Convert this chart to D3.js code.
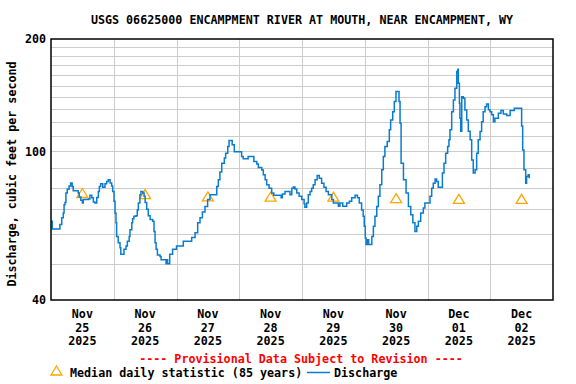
<!DOCTYPE html>
<html><head><meta charset="utf-8">
<script src="https://cdn.jsdelivr.net/npm/d3@7"></script>
<style>
html,body{margin:0;padding:0;background:#fff;}
svg text{font-family:"DejaVu Sans Mono","Liberation Mono",monospace;font-weight:bold;font-size:11.7px;}
</style></head><body>
<svg id="c" width="576" height="384"></svg>
<script>
const title = "USGS 06625000 ENCAMPMENT RIVER AT MOUTH, NEAR ENCAMPMENT, WY";
const yLabel = "Discharge, cubic feet per second";
const startDate = new Date(2025, 10, 25, 0, 0);
const endDate = new Date(2025, 11, 3, 0, 0);
const dayTicks = ["Nov|25|2025","Nov|26|2025","Nov|27|2025","Nov|28|2025","Nov|29|2025","Nov|30|2025","Dec|01|2025","Dec|02|2025"];
const yTickValues = [40, 100, 200];
const yGridValues = [50,60,70,80,90,100,110,120,130,140,150,160,170,180,190];
// hours since Nov 25 00:00
const dischargeHours = [0,0.5,2.8,3.4,4.1,4.7,5.0,5.35,5.7,6.2,6.9,7.5,8.1,8.5,9.8,10.4,10.8,11.4,12.0,12.35,14.3,14.9,15.6,16.2,16.8,17.5,18.1,18.5,19.0,19.8,20.65,21.3,21.9,22.6,23.2,23.6,24.1,24.5,24.85,25.1,25.7,26.4,26.7,27.4,27.9,28.7,29.2,29.9,30.2,30.9,31.2,31.7,32.5,33.0,33.4,34.0,34.4,35.1,35.6,36.0,36.6,37.2,37.9,38.9,39.4,39.8,40.2,40.7,41.7,42.1,43.6,44.0,44.3,44.6,45.4,46.5,48.0,50.6,53.2,53.8,55.1,56.1,57.0,57.9,58.9,59.9,60.8,62.5,63.4,64.0,64.6,65.3,66.3,66.8,67.6,68.1,68.8,69.3,70.1,71.6,72.9,73.5,74.8,75.4,77.0,77.6,78.7,79.3,80.6,81.2,81.9,82.5,83.4,84.4,85.2,86.9,88.0,88.5,89.5,90.5,91.4,92.1,92.7,93.3,94.0,94.9,95.9,96.8,97.1,97.8,98.4,99.1,99.7,100.3,101.0,101.8,102.6,103.5,104.4,105.2,106.1,107.4,108.0,109.5,109.9,110.5,111.6,113.1,114.1,115.0,116.3,117.2,117.9,118.8,119.4,119.8,120.2,120.5,121.0,121.5,122.3,122.7,123.3,123.9,124.6,125.2,125.8,126.5,127.1,127.7,128.6,129.4,129.9,130.7,131.3,131.95,132.6,133.1,133.5,133.9,134.8,135.8,136.7,137.6,138.4,139.2,139.9,140.5,141.4,142.4,143.0,144.3,144.95,145.6,146.2,146.9,147.5,148.1,149.0,149.7,150.3,150.95,151.7,152.2,152.6,153.25,153.9,154.5,155.2,155.6,155.8,156.2,156.4,156.7,157.1,157.7,158.3,159.0,159.6,160.3,160.9,161.5,162.2,162.8,163.4,164.1,164.7,165.3,166.0,166.6,167.3,167.9,168.55,169.2,169.8,171.1,172.1,173.0,174.3,175.6,177.2,179.4,180.0,180.4,180.9,181.55,181.9,182.5,182.9];
const dischargeValues = [65,62,62,63.7,66.4,68.4,72,73,77.4,79.2,80.8,82.3,80.5,78.4,78.4,77.4,75.5,74,72.8,74.3,74.6,76.3,75.1,73.2,72.8,75.3,78.1,80.5,81.9,80.2,81.9,83.1,84,82.3,80.8,78.1,73.5,68.4,64.4,59.2,56.9,55.2,53,53,54.7,55.8,57.5,59.2,61.7,64.4,66,67,67.3,69.7,72.8,76.6,78.1,77.4,75.8,73,70,67.3,65.7,65,61,56.9,54.7,52.8,52.3,51.3,51.3,50,51.3,50,53,54.7,55.8,57.5,57.5,58.8,60.6,64.4,66.4,68.8,71.2,74.3,76.6,76.6,80.5,84,88.1,93,96,98.9,103,107,107,104.2,99.8,99.8,96.9,95.6,95.6,96.9,96.9,94,92.5,90.5,89.2,86.6,84,81.4,79.7,77.4,76.3,76.3,75.1,76.9,78.1,78.1,76.6,79.7,80.3,79.3,77.4,75.8,74.3,72.4,70.9,72.8,76.6,78.1,79.7,81.4,84,86.2,84.8,82.2,80.2,78.1,76.6,74.3,72.8,72.8,71.3,72.8,71.3,72.8,73.5,75.1,76.3,75.1,72.8,69.7,67,63,58.6,56.3,58,56.3,56.3,59.2,63,67,71.2,75.8,81.4,89.3,96.9,103,106.3,114.2,121.4,127.8,136,144.6,144.6,136,119,93,84,77.4,71.2,67.7,64.4,61,63,65,68.4,70.5,72.8,72.8,75.8,79.7,82.2,84.3,83.1,80.2,80.2,87.5,93,98.9,103,107.5,114.2,127.8,137.4,147.7,163.6,166,152.2,134.6,122.7,113.3,140,138.8,129,121.4,113.3,107.5,94.8,87.5,89.3,98.9,107.5,113.1,120.1,127.8,131.8,134,129.2,127.8,125.3,120.1,122.7,126.6,128.6,126,124.8,128.6,130.5,130.5,117,100.9,89.3,82.2,85.6,86.6,84.8];
// median daily statistic at noon each day
const medianValues = [76.9, 76.4, 75.3, 75.2, 75.2, 74.5, 74.2, 74.2];
const legendMedian = "Median daily statistic (85 years)";
const legendDischarge = "Discharge";
const provisional = "---- Provisional Data Subject to Revision ----";

const svg = d3.select("#c");
const L = 51, R = 553, T = 39, B = 300;
const x = d3.scaleTime().domain([startDate, endDate]).range([L, R]);
const y = d3.scaleLog().domain([40, 200]).range([B, T]);
const hourToDate = h => new Date(startDate.getTime() + h * 3600e3);

// grid
const g = svg.append("g");
g.selectAll("line.h").data(yGridValues).join("line")
  .attr("x1", L).attr("x2", R).attr("y1", d => Math.round(y(d)) + 0.5).attr("y2", d => Math.round(y(d)) + 0.5)
  .attr("stroke", "#cccccc").attr("stroke-width", 1);
const days = d3.timeDay.range(d3.timeDay.offset(startDate, 1), endDate);
g.selectAll("line.v").data(days).join("line")
  .attr("y1", T).attr("y2", B).attr("x1", d => Math.round(x(d)) + 0.5).attr("x2", d => Math.round(x(d)) + 0.5)
  .attr("stroke", "#cccccc").attr("stroke-width", 1);

// medians
const noon = dayTicks.map((d, i) => d3.timeHour.offset(startDate, 24 * i + 12));
svg.append("g").selectAll("path").data(medianValues).join("path")
  .attr("d", (d, i) => {
    const cx = x(noon[i]), cy = y(d);
    return `M${cx},${cy - 5.5}L${cx + 5.5},${cy + 3.5}L${cx - 5.5},${cy + 3.5}Z`;
  })
  .attr("fill", "none").attr("stroke", "#FFA500").attr("stroke-width", 1.3);

// discharge
const data = dischargeHours.map((h, i) => [hourToDate(h), dischargeValues[i]]);
svg.append("path").datum(data)
  .attr("d", d3.line().x(d => x(d[0])).y(d => y(d[1])).curve(d3.curveStepAfter))
  .attr("fill", "none").attr("stroke", "#0a7ccf").attr("stroke-width", 1.5);

// frame
svg.append("rect").attr("x", L).attr("y", T).attr("width", R - L).attr("height", B - T)
  .attr("fill", "none").attr("stroke", "#000").attr("stroke-width", 1.5);

// y ticks
const yAxis = d3.axisLeft(y).tickValues(yTickValues).tickFormat(d3.format("d")).tickSize(0).tickPadding(5);
const ya = svg.append("g").attr("transform", `translate(${L},0)`).call(yAxis);
ya.select(".domain").remove();
ya.selectAll("text").style("font-family", null).style("font-size", null).attr("font-size", null).attr("font-family", null).attr("fill", "#000");

// x ticks
const xa = svg.append("g");
dayTicks.forEach((t, i) => {
  const parts = t.split("|");
  const txt = xa.append("text").attr("text-anchor", "middle").attr("x", x(noon[i]));
  parts.forEach((p, j) => txt.append("tspan").attr("x", x(noon[i])).attr("y", 318 + j * 13.5).text(p));
});

// title
svg.append("text").attr("x", 302).attr("y", 24).attr("text-anchor", "middle").text(title);
// y label
svg.append("text").attr("transform", "translate(16,174) rotate(-90)").attr("text-anchor", "middle").text(yLabel);
// provisional
svg.append("text").attr("x", 301).attr("y", 363).attr("text-anchor", "middle").attr("fill", "#ff0000").text(provisional);
// legend
svg.append("path").attr("d", "M56.5,366L62,375L51,375Z").attr("fill", "none").attr("stroke", "#FFA500").attr("stroke-width", 1.3);
svg.append("text").attr("x", 70).attr("y", 377).text(legendMedian);
svg.append("line").attr("x1", 307).attr("x2", 330).attr("y1", 372.5).attr("y2", 372.5).attr("stroke", "#0a7ccf").attr("stroke-width", 1.5);
svg.append("text").attr("x", 334).attr("y", 377).text(legendDischarge);
</script>
</body></html>
